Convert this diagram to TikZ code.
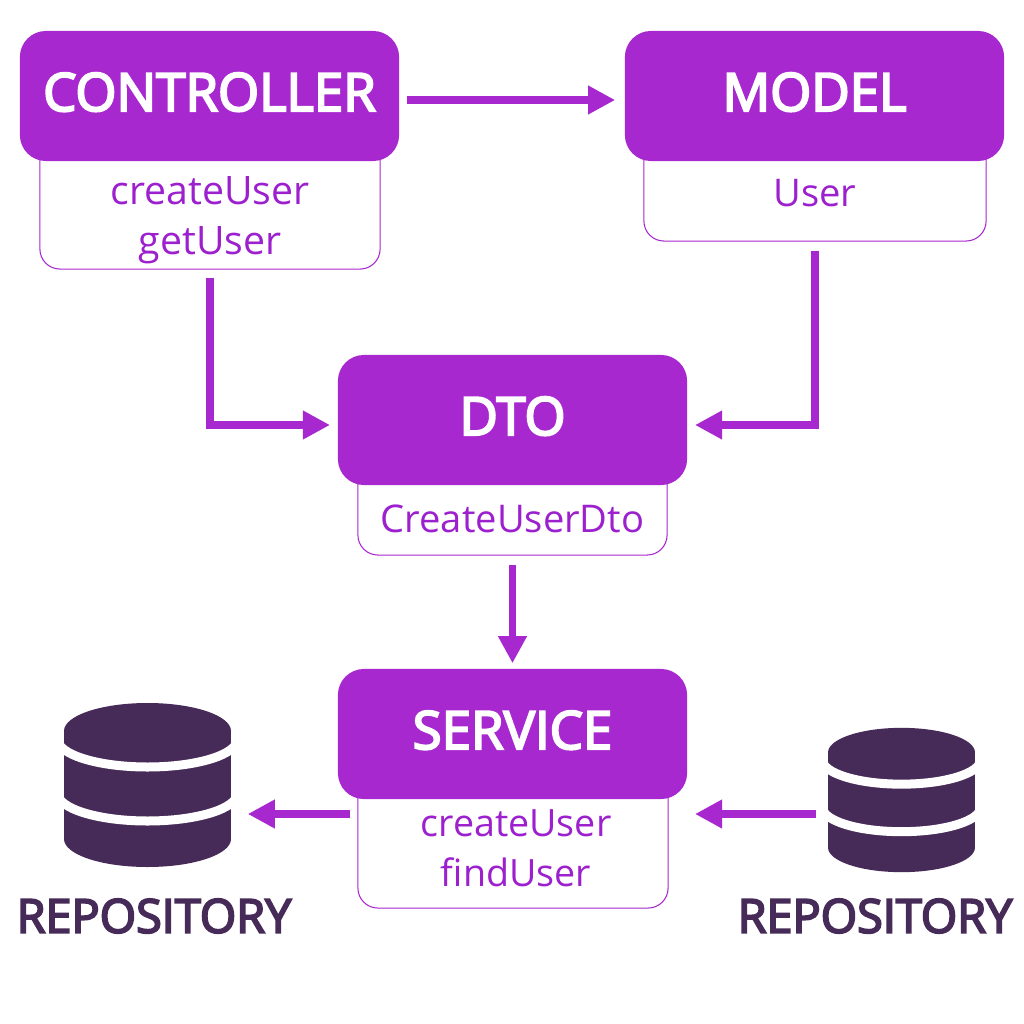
\documentclass[tikz,border=0pt]{standalone}
\usepackage{fontspec}
\setmainfont{Open Sans}
\newfontfamily\headfont[FakeBold=4]{Open Sans}
\usetikzlibrary{arrows.meta}
\definecolor{headpurple}{HTML}{A828D0}
\definecolor{textpurple}{HTML}{9C20CE}
\definecolor{dbdark}{HTML}{462A58}
\begin{document}
\begin{tikzpicture}[
    x=0.01cm, y=-0.01cm,
    headnode/.style={rectangle, rounded corners=0.26cm, fill=headpurple, text=white, minimum height=1.30cm, inner sep=0pt, text height=0.36cm, text depth=0.06cm, font=\fontsize{15}{16}\selectfont\headfont},
    bodynode/.style={rectangle, rounded corners=0.2cm, draw=headpurple, line width=0.3pt, fill=white, inner sep=0pt},
    methodtext/.style={text=textpurple, inner sep=0pt, align=center, font=\fontsize{10.85}{14.2}\selectfont},
    flowline/.style={draw=headpurple, line width=2pt, -{Triangle[length=0.27cm,width=0.27cm]}},
    repolabel/.style={text=dbdark, inner sep=0pt, font=\fontsize{13.3}{15}\selectfont\headfont},
    dbstack/.pic={
      \fill [dbdark] (-83.5,-54) -- (-83.5,54) arc [start angle=180, end angle=0, x radius=83.5, y radius=28] -- (83.5,-54) -- cycle;
      \draw [white, line width=0.09cm] (-90,-46) arc [start angle=180, end angle=0, x radius=90, y radius=28];
      \draw [white, line width=0.09cm] (-90,8) arc [start angle=180, end angle=0, x radius=90, y radius=28];
      \fill [white] (-97,-82) rectangle (-83.5,82);
      \fill [white] (97,-82) rectangle (83.5,82);
      \fill [dbdark] (0,-54) ellipse [x radius=83.5, y radius=28];
    }
    ]
    \useasboundingbox (0,0) rectangle (1024,1024);
    \fill [white] (0,0) rectangle (1024,1024);

    % bodies first, heads lie on top of them
    \node [bodynode, minimum width=3.40cm, minimum height=1.49cm] (controllerbody) at (210,194.5) {};
    \node [bodynode, minimum width=3.42cm, minimum height=1.21cm] (modelbody) at (815,180.5) {};
    \node [bodynode, minimum width=3.09cm, minimum height=1.15cm] (dtobody) at (512.5,497.5) {};
    \node [bodynode, minimum width=3.10cm, minimum height=1.49cm] (servicebody) at (513,833.5) {};

    \node [headnode, minimum width=3.79cm] (controller) at (209.5,96) {CONTROLLER};
    \node [headnode, minimum width=3.79cm] (model) at (814.5,96) {MODEL};
    \node [headnode, minimum width=3.49cm] (dto) at (512.5,420) {DTO};
    \node [headnode, minimum width=3.49cm] (service) at (512.5,734) {SERVICE};

    \node [methodtext, font=\fontsize{11.15}{14.2}\selectfont] (controllertext) at (210,220) {createUser\\getUser};
    \node [methodtext] (modeltext) at (815,193) {User};
    \node [methodtext] (dtotext) at (512.5,519) {CreateUserDto};
    \node [methodtext, font=\fontsize{10.7}{14.2}\selectfont] (servicetext) at (516,848) {createUser\\findUser};

    % the two databases
    \node [minimum width=1.67cm, minimum height=1.64cm, inner sep=0pt] (dbleft) at (147.5,785) {};
    \node [minimum width=1.47cm, minimum height=1.47cm, inner sep=0pt] (dbright) at (901.5,800) {};
    \pic at (dbleft.center) {dbstack};
    \pic [scale=0.88] at (dbright.center) {dbstack};
    \node [repolabel] (repoleft) at (154,916) {REPOSITORY};
    \node [repolabel] (reporight) at (875,916) {REPOSITORY};

    % ports for the arrows that leave the centre lines
    \coordinate (controllerout) at (399,100);
    \coordinate (dtoinleft) at (338,425);
    \coordinate (dtoinright) at (687,425);
    \coordinate (serviceoutleft) at (358,814);
    \coordinate (serviceinright) at (687,814);

    \draw [flowline, shorten <=0.08cm, shorten >=0.09cm] (controllerout) -- (controllerout -| model.west);
    \draw [flowline, shorten <=0.08cm, shorten >=0.08cm] (controllerbody.south) |- (dtoinleft);
    \draw [flowline, shorten <=0.09cm, shorten >=0.08cm] (modelbody.south) |- (dtoinright);
    \draw [flowline, shorten <=0.09cm, shorten >=0.05cm] (dtobody.south) -- (service.north);
    \draw [flowline, shorten <=0.08cm, shorten >=0.16cm] (serviceoutleft) -- (serviceoutleft -| dbleft.east);
    \draw [flowline, shorten <=0.11cm, shorten >=0.08cm] (serviceinright -| dbright.west) -- (serviceinright);
\end{tikzpicture}
\end{document}
